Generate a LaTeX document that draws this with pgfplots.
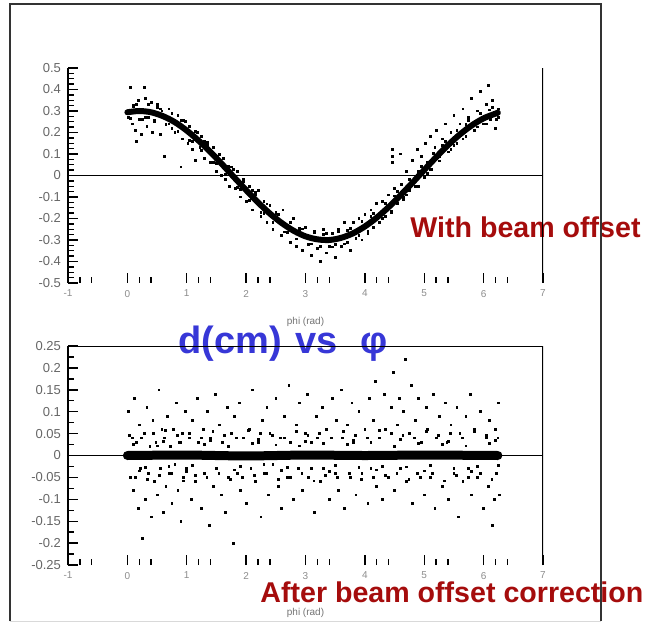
\documentclass[border=0pt]{standalone}
\usepackage{fontspec}
\setmainfont{Liberation Sans}
\usepackage{pgfplots}
\pgfplotsset{compat=1.18}

\definecolor{offred}{RGB}{165,12,12}
\definecolor{titleblue}{RGB}{55,55,215}

\pgfplotsset{
  panel/.style={
    scale only axis,
    width=237.5pt,
    anchor=south west,
    xmin=-1, xmax=7,
    xtick={-1,0,...,7},
    minor xtick={-0.8,-0.6,0.2,0.4,1.2,1.4,2.2,2.4,3.2,3.4,4.2,4.4,5.2,5.4,6.2,6.4},
    axis x line*=bottom,
    axis y line*=left,
    axis line style={-, line width=0.9pt},
    x axis line style={draw=none},
    tick align=inside,
    major tick length=5pt,
    minor tick length=2.8pt,
    tick style={black, line width=0.7pt},
    /pgf/number format/assume math mode=true,
    /pgf/number format/fixed,
    /pgf/number format/precision=2,
    yticklabel style={font=\fontsize{6.5}{7}\selectfont, text=black!60},
    xticklabel style={font=\fontsize{5}{6}\selectfont, text=black!45},
    xlabel style={font=\fontsize{5}{6}\selectfont, text=black!55},
    xlabel={phi (rad)},
  },
  band/.style={black, line width=3pt, line join=round, line cap=round, smooth},
  scat/.style={only marks, mark=square*, mark size=0.45pt, black},
}

\begin{document}
\begin{tikzpicture}[x=1pt,y=1pt]
\useasboundingbox (0,0) rectangle (323,313);

% annotations
\node[anchor=base west, text=offred, font=\fontsize{14.3}{16}\selectfont\bfseries, inner sep=0pt] at (205,194) {With beam offset};
\node[anchor=base west, text=offred, font=\fontsize{14.3}{16}\selectfont\bfseries, inner sep=0pt] at (130,12) {After beam offset correction};
\node[anchor=base west, text=titleblue, font=\fontsize{19}{21}\selectfont\bfseries, inner sep=0pt] at (89,136) {d(cm)\hspace{7pt}vs\hspace{11pt}φ};

% top panel: with beam offset
\begin{axis}[panel, at={(34pt,171.5pt)}, height=107.5pt,
  ymin=-0.5, ymax=0.5,
  ytick={-0.5,-0.4,-0.3,-0.2,-0.1,0,0.1,0.2,0.3,0.4,0.5},
  minor y tick num=3,
  xlabel style={yshift=-3pt},
]
\addplot[band] coordinates {
(0.00,0.294) (0.20,0.300) (0.40,0.294) (0.60,0.276) (0.80,0.248) (1.00,0.209)
(1.20,0.162) (1.40,0.109) (1.60,0.051) (1.80,-0.009) (2.00,-0.068) (2.20,-0.125)
(2.40,-0.177) (2.60,-0.221) (2.80,-0.257) (3.00,-0.283) (3.20,-0.297) (3.40,-0.300)
(3.60,-0.290) (3.80,-0.269) (4.00,-0.237) (4.20,-0.196) (4.40,-0.147) (4.60,-0.092)
(4.80,-0.034) (5.00,0.026) (5.20,0.085) (5.40,0.141) (5.60,0.191) (5.80,0.233)
(6.00,0.266) (6.20,0.288) (6.24,0.292)
};
\addplot[scat] coordinates {
(0.02,0.27) (0.05,0.41) (0.08,0.24) (0.10,0.32) (0.13,0.21) (0.15,0.16) (0.18,0.35)
(0.20,0.26) (0.24,0.19) (0.28,0.41) (0.30,0.36) (0.33,0.23) (0.36,0.27) (0.40,0.34)
(0.42,0.20) (0.45,0.25) (0.50,0.33) (0.55,0.19) (0.58,0.30) (0.62,0.09) (0.65,0.24)
(0.70,0.31) (0.75,0.22) (0.80,0.20) (0.85,0.28) (0.90,0.04) (0.92,0.17) (0.98,0.25)
(1.02,0.15) (1.05,0.23) (1.10,0.12) (1.15,0.07) (1.18,0.20) (1.22,0.13) (1.25,0.18)
(1.30,0.08) (1.35,0.14) (1.40,0.06) (1.45,0.13) (1.50,0.02) (1.52,0.09) (1.58,0.00)
(1.62,0.08) (1.65,-0.02) (1.70,0.04) (1.72,-0.05) (1.78,0.03) (1.82,-0.06) (1.85,0.02)
(1.90,-0.10) (1.95,-0.03) (2.00,-0.12) (2.05,-0.05) (2.10,-0.16) (2.15,-0.09) (2.20,-0.07)
(2.25,-0.19) (2.30,-0.12) (2.35,-0.22) (2.40,-0.14) (2.45,-0.25) (2.50,-0.17) (2.55,-0.21)
(2.60,-0.28) (2.62,-0.16) (2.70,-0.24) (2.75,-0.31) (2.80,-0.20) (2.85,-0.33) (2.90,-0.26)
(2.95,-0.35) (3.00,-0.24) (3.05,-0.32) (3.10,-0.37) (3.15,-0.26) (3.20,-0.34) (3.25,-0.40)
(3.30,-0.25) (3.35,-0.36) (3.40,-0.33) (3.45,-0.27) (3.50,-0.38) (3.55,-0.25) (3.60,-0.33)
(3.65,-0.22) (3.70,-0.31) (3.75,-0.35) (3.80,-0.22) (3.85,-0.29) (3.90,-0.20) (3.95,-0.30)
(4.00,-0.18) (4.05,-0.27) (4.10,-0.16) (4.15,-0.24) (4.20,-0.13) (4.25,-0.22) (4.30,-0.12)
(4.35,-0.19) (4.40,-0.09) (4.45,-0.17) (4.50,-0.06) (4.47,0.06) (4.47,0.09) (4.47,0.12)
(4.55,-0.13) (4.60,0.10) (4.62,-0.04) (4.65,-0.10) (4.70,0.02) (4.75,-0.07) (4.80,0.07)
(4.85,-0.02) (4.88,0.12) (4.90,-0.05) (4.95,0.09) (5.00,-0.01) (5.02,0.15) (5.05,0.06)
(5.10,0.18) (5.12,0.03) (5.18,0.13) (5.20,0.21) (5.25,0.09) (5.30,0.17) (5.35,0.24)
(5.40,0.11) (5.45,0.20) (5.50,0.28) (5.55,0.15) (5.60,0.24) (5.65,0.31) (5.70,0.18)
(5.75,0.27) (5.80,0.36) (5.85,0.21) (5.90,0.30) (5.95,0.39) (6.00,0.24) (6.05,0.33)
(6.08,0.42) (6.12,0.26) (6.15,0.35) (6.20,0.22) (6.25,0.31)
(0.10,0.325) (0.30,0.270) (0.50,0.315) (0.70,0.240) (0.90,0.255) (1.10,0.160)
(1.30,0.160) (1.50,0.055) (1.70,0.045) (1.90,-0.065) (2.10,-0.070) (2.30,-0.178)
(2.50,-0.175) (2.70,-0.265) (2.90,-0.245) (3.10,-0.318) (3.30,-0.275) (3.50,-0.322)
(3.70,-0.255) (3.90,-0.280) (4.10,-0.190) (4.30,-0.198) (4.50,-0.095) (4.70,-0.090)
(4.90,0.020) (5.10,0.030) (5.30,0.140) (5.50,0.140) (5.70,0.238) (5.90,0.226)
(6.10,0.305) (6.25,0.270)
(0.05,0.265) (0.15,0.330) (0.25,0.262) (0.35,0.330) (0.45,0.255) (0.55,0.310)
(0.65,0.235) (0.75,0.290) (0.85,0.205) (0.95,0.255) (1.05,0.165) (1.15,0.205)
(1.25,0.118) (1.35,0.155) (1.45,0.062) (1.55,0.098) (1.65,0.005) (1.75,0.040)
(1.85,-0.055) (1.95,-0.020) (2.05,-0.115) (2.15,-0.080) (2.25,-0.170) (2.35,-0.132)
(2.45,-0.220) (2.55,-0.180) (2.65,-0.262) (2.75,-0.220) (2.85,-0.295) (2.95,-0.248)
(3.05,-0.320) (3.15,-0.265) (3.25,-0.330) (3.35,-0.270) (3.45,-0.332) (3.55,-0.262)
(3.65,-0.318) (3.75,-0.245) (3.85,-0.295) (3.95,-0.215) (4.05,-0.260) (4.15,-0.175)
(4.25,-0.218) (4.35,-0.130) (4.45,-0.168) (4.55,-0.075) (4.65,-0.110) (4.75,-0.018)
(4.85,-0.050) (4.95,0.042) (5.05,0.010) (5.15,0.102) (5.25,0.068) (5.35,0.158)
(5.45,0.122) (5.55,0.210) (5.65,0.170) (5.75,0.255) (5.85,0.210) (5.95,0.290)
(6.05,0.240) (6.15,0.315) (6.22,0.260)
};
\draw[line width=0.9pt] (rel axis cs:1,0) -- (rel axis cs:1,1);
\draw[line width=0.8pt] (axis cs:-1,0) -- (axis cs:7,0);
\end{axis}

% bottom panel: after correction
\begin{axis}[panel, at={(34pt,30.5pt)}, height=109.5pt,
  ymin=-0.25, ymax=0.25,
  ytick={-0.25,-0.2,-0.15,-0.1,-0.05,0,0.05,0.1,0.15,0.2,0.25},
  minor y tick num=1,
  xlabel style={yshift=-7.5pt},
]
\addplot[band, line width=4.5pt] coordinates {
(0.00,0.000) (1.00,0.001) (2.00,-0.001) (3.00,0.001) (4.00,0.000) (5.00,0.001) (6.24,0.000)
};
\addplot[scat] coordinates {
(0.02,0.10) (0.05,-0.05) (0.08,0.04) (0.10,-0.08) (0.12,0.13) (0.15,0.03) (0.18,-0.12)
(0.20,0.07) (0.22,-0.03) (0.25,-0.19) (0.28,0.05) (0.30,-0.10) (0.33,0.11) (0.35,-0.04)
(0.38,0.02) (0.40,-0.14) (0.43,0.08) (0.45,-0.06) (0.48,0.03) (0.50,-0.09) (0.53,0.15)
(0.55,-0.03) (0.58,0.06) (0.60,-0.13) (0.63,0.04) (0.65,-0.07) (0.68,0.09) (0.70,-0.04)
(0.73,0.02) (0.75,-0.11) (0.78,0.06) (0.80,-0.02) (0.83,0.12) (0.85,-0.08) (0.88,0.03)
(0.90,-0.15) (0.93,0.05) (0.95,-0.05) (0.98,0.10) (1.00,-0.03) (1.05,0.04) (1.08,-0.10)
(1.10,0.08) (1.15,-0.06) (1.18,0.13) (1.20,0.03) (1.25,-0.12) (1.28,0.06) (1.30,-0.04)
(1.35,0.10) (1.38,-0.16) (1.40,0.04) (1.45,-0.07) (1.48,0.14) (1.50,-0.03) (1.55,0.07)
(1.58,-0.09) (1.60,0.03) (1.65,-0.13) (1.68,0.11) (1.70,-0.05) (1.75,0.05) (1.78,-0.20)
(1.80,0.09) (1.85,-0.04) (1.88,0.12) (1.90,-0.08) (1.95,0.04) (2.00,-0.11) (2.05,0.06)
(2.08,-0.03) (2.10,0.15) (2.15,-0.06) (2.20,0.03) (2.25,-0.14) (2.28,0.08) (2.30,-0.04)
(2.35,0.11) (2.38,-0.09) (2.40,0.05) (2.45,-0.02) (2.50,0.13) (2.55,-0.07) (2.58,0.04)
(2.60,-0.12) (2.65,0.09) (2.70,-0.05) (2.72,0.16) (2.75,0.03) (2.80,-0.10) (2.85,0.07)
(2.88,-0.03) (2.90,0.12) (2.95,-0.08) (3.00,0.05) (3.03,0.14) (3.05,-0.05) (3.10,0.03)
(3.15,-0.13) (3.18,0.09) (3.20,0.04) (3.25,-0.06) (3.28,0.11) (3.30,-0.03) (3.35,0.06)
(3.40,-0.10) (3.45,0.13) (3.50,-0.04) (3.52,0.08) (3.55,-0.08) (3.60,0.15) (3.62,0.04)
(3.65,-0.12) (3.70,0.07) (3.75,-0.05) (3.78,0.12) (3.80,0.03) (3.85,-0.09) (3.90,0.10)
(3.95,-0.04) (4.00,0.06) (4.05,-0.11) (4.08,0.13) (4.10,-0.03) (4.15,0.08) (4.18,0.17)
(4.20,-0.07) (4.25,0.04) (4.30,-0.10) (4.33,0.14) (4.35,0.06) (4.40,-0.05) (4.45,0.11)
(4.48,0.19) (4.50,-0.08) (4.55,0.07) (4.58,0.13) (4.60,-0.03) (4.65,0.10) (4.68,0.22)
(4.70,-0.06) (4.75,0.05) (4.78,0.16) (4.80,-0.11) (4.85,0.08) (4.88,-0.04) (4.90,0.13)
(4.95,0.03) (5.00,-0.09) (5.03,0.11) (5.05,0.06) (5.10,-0.05) (5.15,0.14) (5.18,-0.12)
(5.20,0.04) (5.25,0.09) (5.30,-0.07) (5.35,0.12) (5.38,0.03) (5.40,-0.10) (5.45,0.07)
(5.50,-0.04) (5.55,0.11) (5.58,-0.14) (5.60,0.05) (5.65,-0.06) (5.70,0.09) (5.75,-0.03)
(5.78,0.14) (5.80,-0.09) (5.85,0.06) (5.90,-0.05) (5.95,0.10) (6.00,-0.12) (6.05,0.04)
(6.08,-0.07) (6.10,0.08) (6.15,-0.16) (6.18,-0.10) (6.20,0.06) (6.22,-0.04) (6.25,0.12)
(6.27,-0.09)
(0.10,0.025) (0.30,-0.028) (0.50,0.022) (0.70,-0.024) (0.90,0.030) (1.10,-0.022)
(1.30,0.026) (1.50,-0.030) (1.70,0.021) (1.90,-0.025) (2.10,0.028) (2.30,-0.021)
(2.50,0.024) (2.70,-0.027) (2.90,0.022) (3.10,-0.030) (3.30,0.027) (3.50,-0.022)
(3.70,0.025) (3.90,-0.028) (4.10,0.030) (4.30,-0.024) (4.50,0.021) (4.70,-0.026)
(4.90,0.028) (5.10,-0.023) (5.30,0.025) (5.50,-0.029) (5.70,0.022) (5.90,-0.025)
(6.10,0.027) (6.25,-0.022)
(0.20,-0.035) (0.60,0.033) (1.00,-0.036) (1.40,0.034) (1.80,-0.033) (2.20,0.036)
(2.60,-0.034) (3.00,0.033) (3.40,-0.037) (3.80,0.034) (4.20,-0.033) (4.60,0.036)
(5.00,-0.035) (5.40,0.033) (5.80,-0.036) (6.20,0.034)
(0.04,0.045) (0.14,-0.050) (0.24,0.040) (0.34,-0.055) (0.44,0.050) (0.54,-0.045)
(0.64,0.058) (0.74,-0.040) (0.84,0.045) (0.94,-0.058) (1.04,0.050) (1.14,-0.045)
(1.24,0.040) (1.34,-0.050) (1.44,0.055) (1.54,-0.040) (1.64,0.045) (1.74,-0.055)
(1.84,0.040) (1.94,-0.050) (2.04,0.058) (2.14,-0.045) (2.24,0.050) (2.34,-0.040)
(2.44,0.045) (2.54,-0.055) (2.64,0.040) (2.74,-0.050) (2.84,0.055) (2.94,-0.040)
(3.04,0.045) (3.14,-0.058) (3.24,0.050) (3.34,-0.045) (3.44,0.040) (3.54,-0.050)
(3.64,0.055) (3.74,-0.040) (3.84,0.045) (3.94,-0.055) (4.04,0.040) (4.14,-0.050)
(4.24,0.058) (4.34,-0.045) (4.44,0.050) (4.54,-0.040) (4.64,0.045) (4.74,-0.055)
(4.84,0.040) (4.94,-0.050) (5.04,0.055) (5.14,-0.040) (5.24,0.045) (5.34,-0.058)
(5.44,0.050) (5.54,-0.045) (5.64,0.040) (5.74,-0.050) (5.84,0.055) (5.94,-0.040)
(6.04,0.045) (6.14,-0.055) (6.24,0.040)
};
\draw[line width=0.9pt] (rel axis cs:1,0) -- (rel axis cs:1,1);
\draw[line width=0.9pt] (rel axis cs:0,1) -- (rel axis cs:1,1);
\draw[line width=0.8pt] (axis cs:-1,0) -- (axis cs:7,0);
\end{axis}

% outer frame
\draw[line width=1pt, black!80] (4.75,2.5) -- (4.75,311) -- (300.5,311) -- (300.5,2.5);
\draw[line width=0.5pt, black!15] (4.75,2.5) -- (300.5,2.5);
\end{tikzpicture}
\end{document}
